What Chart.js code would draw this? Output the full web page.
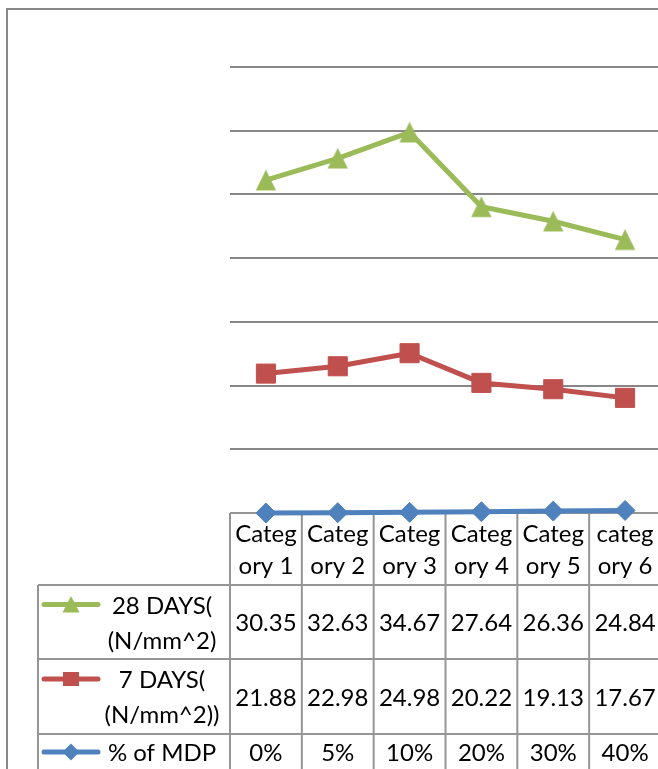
<!DOCTYPE html>
<html><head><meta charset="utf-8">
<script src="https://cdn.jsdelivr.net/npm/chart.js@4/dist/chart.umd.min.js"></script>
<style>
html,body{margin:0;padding:0;overflow:hidden;background:#fff;}
#wrap{position:absolute;left:0;top:0;width:700px;height:800px;}
</style></head><body>
<div id="wrap"><canvas id="c" width="700" height="800"></canvas></div>
<script>
// ---- data ----
const categories = [['Categ','ory 1'],['Categ','ory 2'],['Categ','ory 3'],['Categ','ory 4'],['Categ','ory 5'],['categ','ory 6']];
const days28 = [30.35, 32.63, 34.67, 27.64, 26.36, 24.84];
const days7  = [21.88, 22.98, 24.98, 20.22, 19.13, 17.67];
const mdp    = [0, 0.05, 0.10, 0.20, 0.30, 0.40];
const name28 = ['28 DAYS(', '(N/mm^2)'];
const name7  = ['7 DAYS(', '(N/mm^2))'];
const nameMdp = ['% of MDP'];
const yMin = 0, yMax = 70, yStep = 10;

const GREEN = '#9BBB59', RED = '#C0504D', BLUE = '#4F81BD';
const FONT = '24px Lato';

// triangle marker centred on its bounding box (as in the reference)
const triImg = document.createElement('canvas');
triImg.width = 22; triImg.height = 22;
(function () {
  const t = triImg.getContext('2d');
  t.fillStyle = GREEN;
  t.beginPath();
  t.moveTo(11, 0.6); t.lineTo(21.2, 21.3); t.lineTo(0.8, 21.3);
  t.closePath(); t.fill();
})();

const framePlugin = {
  id: 'frame',
  beforeDraw(chart) {
    const ctx = chart.ctx;
    ctx.save();
    ctx.fillStyle = '#fff';
    ctx.fillRect(0, 0, chart.width, chart.height);
    ctx.strokeStyle = '#878787';
    ctx.lineWidth = 2;
    ctx.strokeRect(7, 9, chart.width + 20, chart.height + 20);
    ctx.restore();
  }
};

function drawKey(ctx, shape, color, y) {
  ctx.save();
  ctx.strokeStyle = color; ctx.fillStyle = color;
  ctx.lineWidth = 5; ctx.lineCap = 'round';
  ctx.beginPath(); ctx.moveTo(44, y); ctx.lineTo(98, y); ctx.stroke();
  const cx = 71;
  ctx.beginPath();
  if (shape === 'triangle') {
    ctx.moveTo(cx, y - 8.5); ctx.lineTo(cx + 8.5, y + 8); ctx.lineTo(cx - 8.5, y + 8);
  } else if (shape === 'rect') {
    ctx.rect(cx - 8, y - 7, 16, 14);
  } else {
    ctx.moveTo(cx, y - 8.5); ctx.lineTo(cx + 8.5, y); ctx.lineTo(cx, y + 8.5); ctx.lineTo(cx - 8.5, y);
  }
  ctx.closePath(); ctx.fill();
  ctx.restore();
}

const tablePlugin = {
  id: 'dataTable',
  beforeDatasetsDraw(chart) {
    const ctx = chart.ctx, xs = chart.scales.x, top = chart.chartArea.bottom;
    const n = categories.length;
    const cw = xs.getPixelForValue(1) - xs.getPixelForValue(0);
    const x0 = xs.getPixelForValue(0) - cw / 2, x1 = x0 + cw * n;
    const legendLeft = 38;
    const heights = [72, 74, 75, 36];
    const ys = [top];
    heights.forEach(h => ys.push(ys[ys.length - 1] + h));
    ctx.save();
    ctx.strokeStyle = '#959595'; ctx.lineWidth = 2;
    ctx.beginPath();
    ctx.moveTo(x0, ys[0]); ctx.lineTo(x1, ys[0]);
    for (let k = 1; k < ys.length; k++) { ctx.moveTo(legendLeft, ys[k]); ctx.lineTo(x1, ys[k]); }
    for (let i = 0; i <= n; i++) { const x = x0 + cw * i; ctx.moveTo(x, ys[0]); ctx.lineTo(x, ys[ys.length - 1]); }
    ctx.moveTo(legendLeft, ys[1]); ctx.lineTo(legendLeft, ys[ys.length - 1]);
    ctx.stroke();

    ctx.fillStyle = '#000'; ctx.font = FONT; ctx.textAlign = 'center'; ctx.textBaseline = 'alphabetic';
    const cap = 9;
    const linesAt = (rowTop, h, k, sp) => { const arr = []; const start = rowTop + (h - (k - 1) * sp) / 2 + cap; for (let j = 0; j < k; j++) arr.push(start + j * sp); return arr; };
    categories.forEach((lines, i) => {
      const cx = xs.getPixelForValue(i);
      const bl = linesAt(ys[0], heights[0], lines.length, 31.6);
      lines.forEach((t, j) => ctx.fillText(t, cx, bl[j]));
    });
    const series = [
      { name: name28, data: days28, fmt: v => v.toFixed(2), color: GREEN, shape: 'triangle' },
      { name: name7, data: days7, fmt: v => v.toFixed(2), color: RED, shape: 'rect' },
      { name: nameMdp, data: mdp, fmt: v => Math.round(v * 100) + '%', color: BLUE, shape: 'diamond' }
    ];
    series.forEach((s, r) => {
      const rowTop = ys[r + 1], h = heights[r + 1];
      const bl = linesAt(rowTop, h, s.name.length, 35);
      ctx.textAlign = 'center';
      s.name.forEach((t, j) => ctx.fillText(t, 162, bl[j]));
      drawKey(ctx, s.shape, s.color, bl[0] - cap);
      ctx.fillStyle = '#000';
      s.data.forEach((v, i) => ctx.fillText(s.fmt(v), xs.getPixelForValue(i), rowTop + h / 2 + cap));
    });
    ctx.restore();
  }
};

const common = { tension: 0, clip: false, borderJoinStyle: 'round', borderCapStyle: 'round', pointBorderWidth: 1, fill: false, borderWidth: 5 };

new Chart(document.getElementById('c'), {
  type: 'line',
  data: {
    labels: categories,
    datasets: [
      Object.assign({ label: nameMdp.join(' '), data: mdp, borderColor: BLUE, backgroundColor: BLUE, pointBackgroundColor: BLUE, pointBorderColor: BLUE, pointStyle: 'rectRot', pointRadius: 10, pointHoverRadius: 10 }, common),
      Object.assign({ label: name7.join(' '), data: days7, borderColor: RED, backgroundColor: RED, pointBackgroundColor: RED, pointBorderColor: RED, pointStyle: 'rect', pointRadius: 13.5, pointHoverRadius: 13.5 }, common),
      Object.assign({ label: name28.join(' '), data: days28, borderColor: GREEN, backgroundColor: GREEN, pointBackgroundColor: GREEN, pointBorderColor: GREEN, pointStyle: triImg, pointRadius: 11, pointHoverRadius: 11 }, common)
    ]
  },
  options: {
    responsive: false, animation: false, devicePixelRatio: 1, events: [],
    layout: { padding: { left: 230, right: 39, top: 67, bottom: 287 } },
    plugins: { legend: { display: false }, tooltip: { enabled: false } },
    scales: {
      x: { display: false, offset: true },
      y: {
        stacked: true, min: yMin, max: yMax,
        ticks: { stepSize: yStep, display: false },
        grid: { color: '#878787', lineWidth: 2, drawTicks: false },
        border: { display: false },
        afterFit(s) { s.width = 0; }
      }
    }
  },
  plugins: [framePlugin, tablePlugin]
});
</script>
</body></html>
